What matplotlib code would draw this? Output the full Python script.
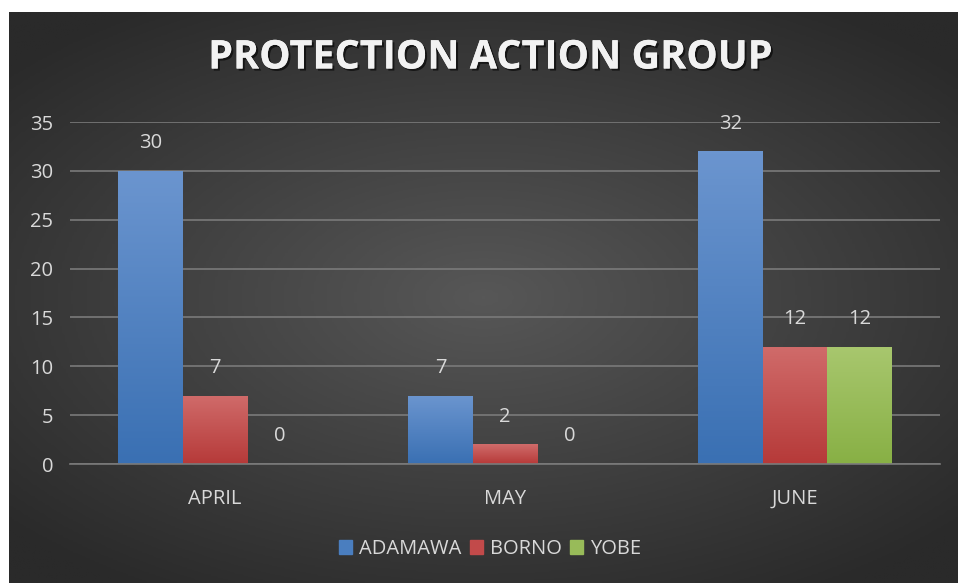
#!usr/bin/python
"""Protection Action Group: grouped bar chart on dark gradient background"""

import matplotlib
matplotlib.use('Agg')
import matplotlib.pyplot as plt
import matplotlib.patheffects as pe
import numpy as np
from matplotlib.colors import LinearSegmentedColormap

# data
months = ['APRIL', 'MAY', 'JUNE']
states = ['ADAMAWA', 'BORNO', 'YOBE']
adamawa = [30, 7, 32]
borno = [7, 2, 12]
yobe = [0, 0, 12]
y_ticks = [0, 5, 10, 15, 20, 25, 30, 35]

# gradient colours per series: (top, bottom)
grads = [('#6b95cf', '#3a70b3'), ('#d06b6a', '#b63a39'), ('#a8c76e', '#88b045')]
solid = ['#4a7ebf', '#c24a4a', '#98bb59']
txt_col = '#d9d9d9'

plt.rcParams['font.family'] = ['Open Sans', 'DejaVu Sans']

fig = plt.figure(figsize=(9.58, 5.83), dpi=100)
fig.patch.set_facecolor('white')

# background: radial gradient panel
W, H = 958, 583
x0, y0 = 9, 12
bg = fig.add_axes([x0 / W, 0, 1 - x0 / W, 1 - y0 / H])
bg.set_axis_off()
gx, gy = np.meshgrid(np.linspace(-1, 1, 400), np.linspace(-1, 1, 250))
rad = np.sqrt((gx / 1.0) ** 2 + (gy / 0.9) ** 2)
bg_cmap = LinearSegmentedColormap.from_list('bg', ['#575757', '#2a2a2a'])
bg.imshow(rad, cmap=bg_cmap, vmin=0, vmax=1.35, aspect='auto', extent=[0, 1, 0, 1])
bg.set_xlim(0, 1)
bg.set_ylim(0, 1)

# main axes
ax = fig.add_axes([70 / W, 1 - 464 / H, (940 - 70) / W, (464 - 122) / H])
ax.patch.set_alpha(0)
x = np.arange(len(months))
bw = 0.222
series = [adamawa, borno, yobe]

for i, vals in enumerate(series):
    pos = x + (i - 1) * bw
    bars = ax.bar(pos, vals, width=bw, color=solid[i], label=states[i], zorder=3)
    cmap = LinearSegmentedColormap.from_list('g%d' % i, [grads[i][1], grads[i][0]])
    for b, v in zip(bars, vals):
        if v > 0:
            grad = np.linspace(0, 1, 100).reshape(-1, 1)
            im = ax.imshow(grad, cmap=cmap, aspect='auto', origin='lower',
                           extent=[b.get_x(), b.get_x() + b.get_width(), 0, v], zorder=4)
            im.set_clip_path(b)
        ax.annotate(str(v), (b.get_x() + b.get_width() / 2, v), xytext=(0, 20),
                    textcoords='offset points', ha='center', va='center',
                    fontsize=14.5, color=txt_col, zorder=5)

ax.set_xlim(-0.5, 2.5)
ax.set_ylim(0, 35)
ax.set_yticks(y_ticks)
ax.set_xticks(x)
ax.set_xticklabels(months)
ax.yaxis.grid(True, color='#7a7a7a', linewidth=1.2, zorder=0)
ax.set_axisbelow(True)
for sp in ['top', 'right', 'left']:
    ax.spines[sp].set_visible(False)
ax.spines['bottom'].set_color('#7a7a7a')
ax.spines['bottom'].set_linewidth(1.2)
ax.spines['bottom'].set_zorder(6)
ax.tick_params(axis='both', length=0, labelsize=14.5, colors=txt_col)
ax.tick_params(axis='x', pad=18)
ax.tick_params(axis='y', pad=12)

# title
fig.text(490 / W, 1 - 58 / H, 'PROTECTION ACTION GROUP', ha='center', va='center',
         fontsize=28.5, fontweight='bold', color='#f2f2f2',
         path_effects=[pe.withSimplePatchShadow(offset=(1.5, -1.5), shadow_rgbFace='black', alpha=0.6),
                       pe.Normal()])

# legend
handles = [plt.Rectangle((0, 0), 1, 1, color=c) for c in solid]
leg = fig.legend(handles, states, loc='center', bbox_to_anchor=(490 / W, 1 - 549 / H),
                 ncol=3, frameon=False, fontsize=14.5, handlelength=0.65, handleheight=0.65,
                 handletextpad=0.35, columnspacing=0.4)
for t in leg.get_texts():
    t.set_color(txt_col)

fig.savefig('out.png', dpi=100)
